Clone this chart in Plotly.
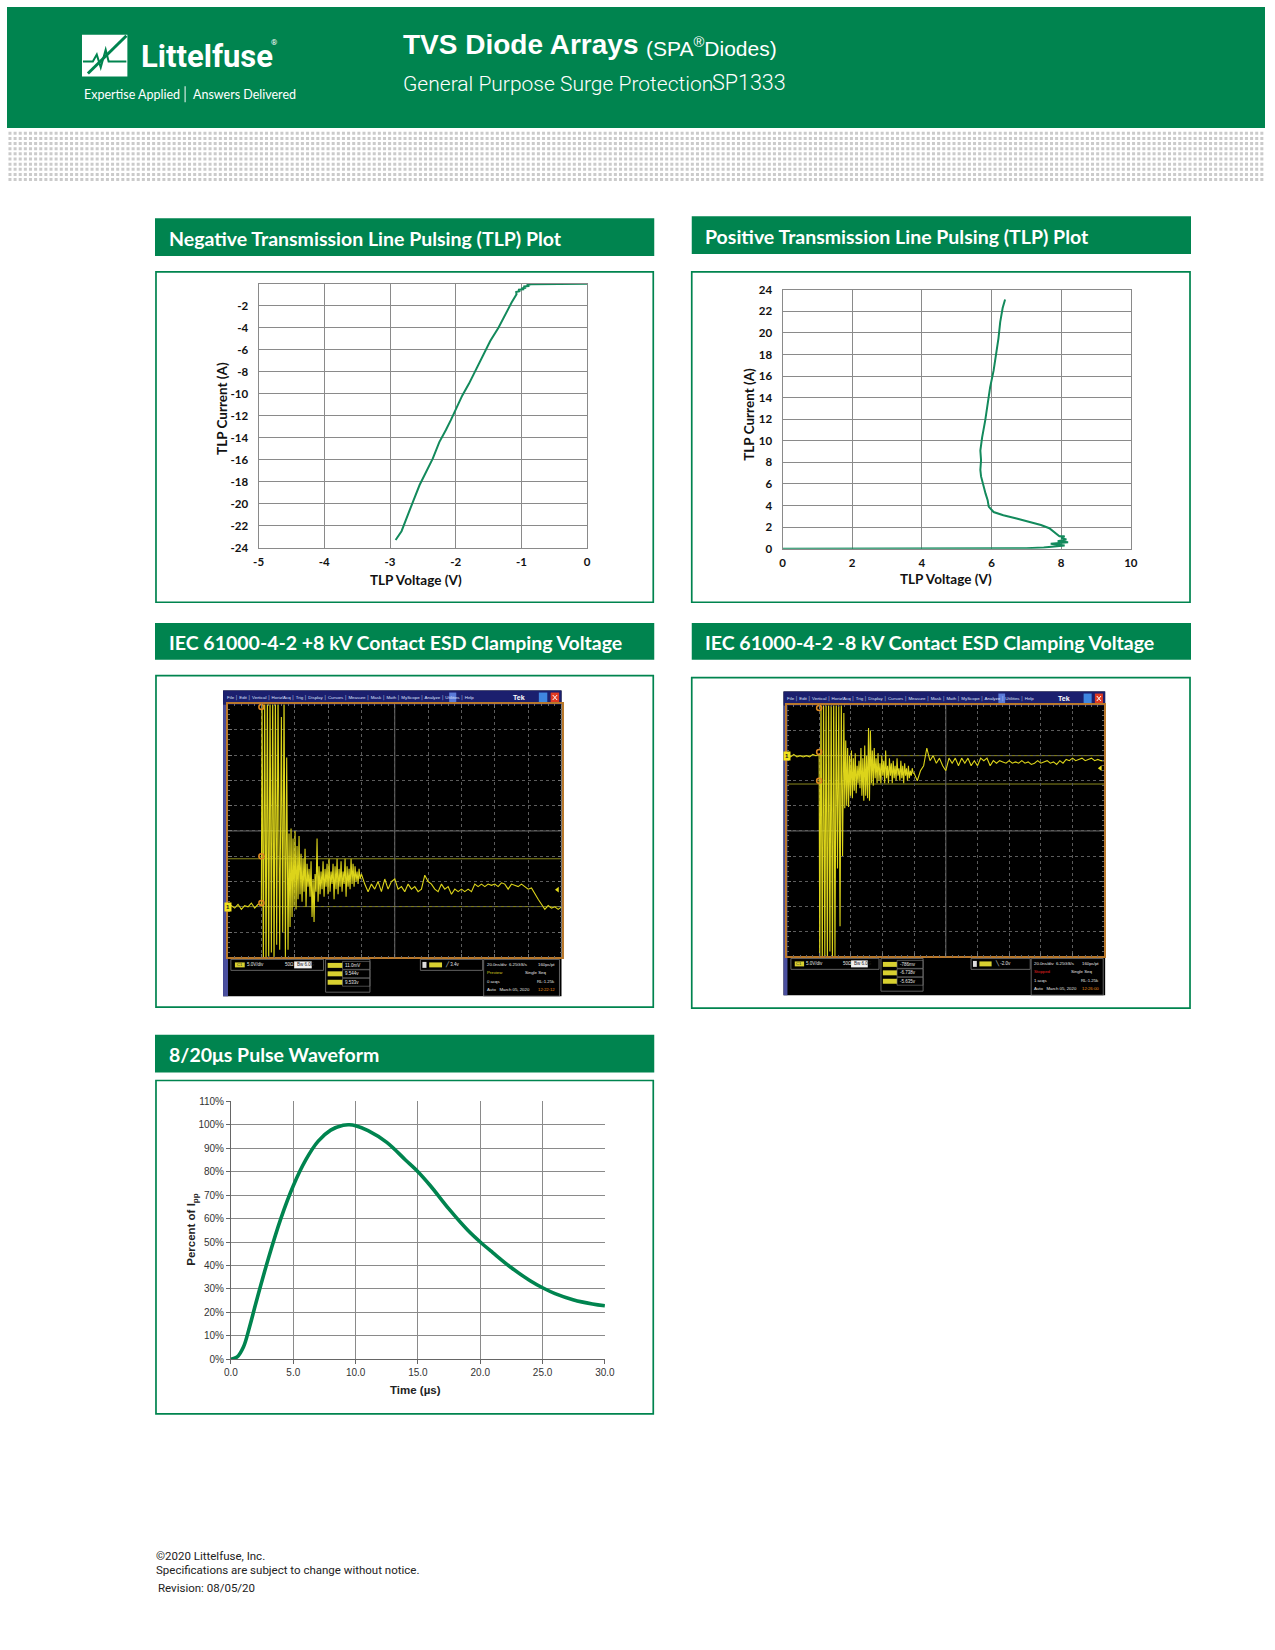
import plotly.graph_objects as go

W, H = 1275, 1650          # page size; the plot div is pinned to the page origin
GREEN = "#00844F"
CURVE = "#138a5c"
GRID = "#8a8a8a"


def px(x):
    return x / W


def py(y):
    return 1 - y / H


# ---------------- chart data ----------------
# Negative TLP (V, A)
neg_tlp_voltage = [0.0, -0.3, -0.6, -0.85, -0.92, -0.88, -0.97, -0.93, -1.0, -0.96, -1.05, -1.02, -1.08,
                   -1.075, -1.15, -1.25, -1.35, -1.475, -1.525, -1.625, -1.725, -1.8, -1.9, -2.0, -2.075,
                   -2.15, -2.25, -2.35, -2.475, -2.55, -2.65, -2.75, -2.825, -2.915]
neg_tlp_current = [0.0, 0.0, 0.0, -0.05, -0.1, -0.2, -0.25, -0.35, -0.4, -0.5, -0.55, -0.65, -0.75,
                   -0.96, -1.7, -2.8, -4.0, -5.2, -5.8, -7.0, -8.2, -9.1, -10.15, -11.5, -12.4,
                   -13.3, -14.4, -15.9, -17.4, -18.3, -19.8, -21.3, -22.5, -23.3]
neg_x_ticks = [-5, -4, -3, -2, -1, 0]
neg_x_labels = ["-5", "-4", "-3", "-2", "-1", "0"]
neg_y_ticks = [-2, -4, -6, -8, -10, -12, -14, -16, -18, -20, -22, -24]
neg_y_labels = ["-2", "-4", "-6", "-8", "-10", "-12", "-14", "-16", "-18", "-20", "-22", "-24"]

# Positive TLP (V, A)
pos_tlp_voltage = [0.0, 2.0, 4.0, 6.0, 7.0, 7.5, 7.8, 8.1, 7.7, 8.2, 7.9, 8.15, 8.0, 8.1, 7.95,
                   7.66, 7.42, 7.09, 6.72, 6.34, 6.06, 5.92, 5.89, 5.83, 5.78, 5.7, 5.68, 5.7, 5.68,
                   5.73, 5.82, 5.89, 5.96, 6.06, 6.15, 6.2, 6.25, 6.32, 6.39]
pos_tlp_current = [0.0, 0.0, 0.0, 0.0, 0.05, 0.1, 0.2, 0.3, 0.45, 0.6, 0.7, 0.85, 1.0, 1.15, 1.15,
                   1.9, 2.2, 2.5, 2.8, 3.1, 3.4, 3.9, 4.5, 5.1, 5.7, 6.7, 7.3, 8.2, 9.1,
                   10.3, 11.9, 13.4, 14.95, 16.5, 18.3, 19.5, 21.0, 22.3, 23.1]
pos_x_ticks = [0, 2, 4, 6, 8, 10]
pos_x_labels = ["0", "2", "4", "6", "8", "10"]
pos_y_ticks = [0, 2, 4, 6, 8, 10, 12, 14, 16, 18, 20, 22, 24]
pos_y_labels = ["0", "2", "4", "6", "8", "10", "12", "14", "16", "18", "20", "22", "24"]

# 8/20us pulse waveform
pulse_time_us = [0, 0.5, 1.0, 1.5, 2.0, 3.0, 4.0, 5.0, 6.0, 7.0, 8.0, 9.0, 9.5, 10.0, 11.0, 12.5, 14.0,
                 15.0, 16.0, 17.5, 19.0, 20.0, 21.0, 22.5, 24.0, 25.0, 26.0, 27.5, 29.0, 30.0]
pulse_percent = [0, 1.0, 5.2, 14.0, 24.0, 43.0, 60.0, 74.0, 85.0, 93.0, 97.7, 99.8, 100.0, 99.6, 97.5,
                 92.5, 85.0, 80.0, 74.0, 64.0, 55.0, 50.0, 45.5, 39.0, 33.5, 30.5, 28.0, 25.3, 23.6, 22.8]
pulse_x_ticks = [0, 5, 10, 15, 20, 25, 30]
pulse_x_labels = ["0.0", "5.0", "10.0", "15.0", "20.0", "25.0", "30.0"]
pulse_y_ticks = [0, 10, 20, 30, 40, 50, 60, 70, 80, 90, 100, 110]
pulse_y_labels = ["0%", "10%", "20%", "30%", "40%", "50%", "60%", "70%", "80%", "90%", "100%", "110%"]

# Oscilloscope traces, in graticule divisions (x: 0..10 left->right, y: 0..10 bottom->top)
scope_pos_x = [0.0, 0.1, 0.2, 0.3, 0.4, 0.5, 0.6, 0.7, 0.8, 0.9, 1.0,
               1.02, 1.06, 1.1, 1.14, 1.18, 1.22, 1.26, 1.3, 1.34, 1.38, 1.42, 1.46, 1.5, 1.55, 1.6,
               1.64, 1.68, 1.72, 1.76,
               1.80, 1.83, 1.86, 1.89, 1.92, 1.95, 1.98, 2.01, 2.04, 2.07, 2.10, 2.13, 2.16, 2.19, 2.22,
               2.25, 2.28, 2.31, 2.34, 2.37, 2.40, 2.43, 2.46, 2.49, 2.52, 2.55, 2.58, 2.61, 2.64, 2.67,
               2.70, 2.73, 2.76, 2.79, 2.82, 2.85, 2.88, 2.91, 2.94, 2.97, 3.00, 3.03, 3.06, 3.09, 3.12,
               3.15, 3.18, 3.21, 3.24, 3.27, 3.30, 3.33, 3.36, 3.39, 3.42, 3.45, 3.48, 3.51, 3.54, 3.57,
               3.60, 3.63, 3.66, 3.69, 3.72, 3.75, 3.78, 3.81, 3.84, 3.87, 3.90, 3.93, 3.96, 3.99,
               4.0, 4.1, 4.2, 4.3, 4.4, 4.5, 4.6, 4.7, 4.8, 4.9, 5.0, 5.1, 5.2, 5.3, 5.4, 5.5, 5.6,
               5.7, 5.8, 5.9, 6.0, 6.1, 6.2, 6.3, 6.4, 6.5, 6.6, 6.7, 6.8, 6.9, 7.0, 7.1, 7.2, 7.3,
               7.4, 7.5, 7.6, 7.7, 7.8, 7.9, 8.0, 8.1, 8.2, 8.3, 8.4, 8.5, 8.6, 8.7, 8.8, 8.9, 9.0,
               9.1, 9.2, 9.3, 9.4, 9.5, 9.6, 9.7, 9.8, 9.9, 10.0]
scope_pos_y = [2.0, 2.05, 1.95, 2.1, 1.9, 2.05, 2.0, 2.15, 1.95, 2.1, 2.1,
               10.5, -0.5, 10.5, -0.5, 10.5, -0.5, 10.5, 0.2, 10.5, -0.5, 10.5, 0.5, 10.5, 0.3, 9.5,
               1.0, 10.5, 0.0, 7.9,
               0.3, 4.9, 1.2, 5.1, 1.6, 4.7, 2.0, 5.0, 1.9, 4.4, 2.3, 4.8, 2.5, 4.1, 2.2,
               3.9, 2.6, 4.3, 2.0, 3.7, 2.8, 3.5, 2.4, 3.8, 1.6, 3.1, 1.4, 3.3, 2.6, 4.7,
               2.2, 3.6, 2.5, 3.4, 2.7, 3.8, 2.4, 3.5, 2.8, 3.7, 2.5, 3.9, 2.6, 3.4, 2.9,
               3.7, 2.3, 3.6, 2.7, 3.9, 2.5, 3.5, 2.8, 3.8, 2.6, 3.4, 2.9, 3.9, 2.4, 3.6,
               2.8, 3.5, 2.7, 3.9, 2.9, 3.7, 2.8, 3.6, 3.0, 3.4, 2.9, 3.5, 3.1, 3.3,
               3.3, 2.9, 2.6, 2.9, 2.7, 3.0, 2.6, 3.1, 2.7, 3.0, 3.1, 2.7, 2.8, 2.6, 2.9, 2.7, 2.8,
               2.6, 2.7, 3.25, 3.0, 2.9, 2.7, 2.6, 2.9, 2.7, 2.8, 2.5, 2.7, 2.6, 2.7, 2.6, 2.7, 2.6,
               2.9, 2.8, 2.9, 2.8, 2.9, 2.85, 2.9, 2.8, 2.95, 2.9, 2.7, 2.9, 2.85, 2.8, 2.9, 2.8, 2.7,
               2.75, 2.5, 2.3, 2.1, 1.9, 2.05, 1.95, 2.0, 1.9, 2.0]
scope_neg_x = [0.0, 0.1, 0.2, 0.3, 0.4, 0.5, 0.6, 0.7, 0.8, 0.9, 1.0,
               1.02, 1.06, 1.1, 1.14, 1.18, 1.22, 1.26, 1.3, 1.34, 1.38, 1.42, 1.46, 1.5, 1.54, 1.58,
               1.62, 1.66, 1.7, 1.74, 1.78,
               1.81, 1.84, 1.87, 1.90, 1.93, 1.96, 1.99, 2.02, 2.05, 2.08, 2.11, 2.14, 2.17, 2.20, 2.23,
               2.26, 2.29, 2.32, 2.35, 2.38, 2.41, 2.44, 2.47, 2.50, 2.53, 2.56, 2.59, 2.62, 2.65, 2.68,
               2.71, 2.74, 2.77, 2.80, 2.83, 2.86, 2.89, 2.92, 2.95, 2.98, 3.01, 3.04, 3.07, 3.10, 3.13,
               3.16, 3.19, 3.22, 3.25, 3.28, 3.31, 3.34, 3.37, 3.40, 3.43, 3.46, 3.49, 3.52, 3.55, 3.58,
               3.61, 3.64, 3.67, 3.70, 3.73, 3.76, 3.79, 3.82, 3.85, 3.88, 3.91, 3.94, 3.97,
               4.0, 4.1, 4.2, 4.3, 4.4, 4.5, 4.6, 4.7, 4.8, 4.9, 5.0, 5.1, 5.2, 5.3, 5.4, 5.5, 5.6,
               5.7, 5.8, 5.9, 6.0, 6.1, 6.2, 6.3, 6.4, 6.5, 6.6, 6.7, 6.8, 6.9, 7.0, 7.1, 7.2, 7.3,
               7.4, 7.5, 7.6, 7.7, 7.8, 7.9, 8.0, 8.1, 8.2, 8.3, 8.4, 8.5, 8.6, 8.7, 8.8, 8.9, 9.0,
               9.1, 9.2, 9.3, 9.4, 9.5, 9.6, 9.7, 9.8, 9.9, 10.0]
scope_neg_y = [8.0, 7.95, 8.05, 7.95, 8.0, 7.95, 8.0, 7.95, 8.05, 8.0, 8.05,
               -0.5, 10.5, -0.5, 10.5, 0.0, 10.5, -0.5, 10.5, 0.2, 10.5, -0.5, 10.5, 0.0, 10.3, 3.5,
               10.0, 1.2, 10.2, 4.0, 9.7,
               5.9, 8.6, 6.0, 8.3, 5.95, 8.0, 6.4, 8.2, 6.3, 7.9, 6.6, 8.1, 6.5, 7.6, 6.9,
               7.8, 6.7, 8.3, 6.4, 7.9, 6.2, 8.4, 6.4, 8.0, 6.3, 9.1, 6.2, 9.0, 6.9, 8.2,
               6.8, 8.3, 7.1, 7.9, 6.9, 8.1, 7.0, 7.7, 6.9, 8.0, 7.2, 7.8, 6.9, 8.2, 7.1,
               7.6, 6.9, 7.9, 7.2, 7.7, 6.9, 7.8, 7.1, 7.6, 7.0, 7.9, 7.2, 7.5, 7.0, 7.8,
               7.1, 7.6, 6.9, 7.7, 7.2, 7.5, 7.0, 7.6, 7.1, 7.4, 7.2, 7.5, 7.3,
               7.3, 7.0, 7.4, 7.6, 8.3, 7.8, 8.0, 7.7, 7.9, 7.6, 7.4, 7.9, 7.7, 7.9, 7.6, 7.9, 7.7,
               7.9, 7.6, 7.8, 7.6, 7.9, 7.8, 7.9, 7.6, 7.8, 7.7, 7.8, 7.75, 7.7, 7.8, 7.7, 7.75, 7.7,
               7.8, 7.7, 7.75, 7.65, 7.7, 7.8, 7.7, 7.75, 7.8, 7.7, 7.75, 7.65, 7.8, 7.7, 7.85, 7.8, 7.9,
               7.8, 7.85, 7.9, 7.8, 7.85, 7.9, 7.8, 7.85, 7.8, 7.8]
scope_pos_cursor_levels = [3.9, 2.01]
scope_neg_cursor_levels = [8.0, 6.87]
scope_pos_cursor_marks = [9.9, 4.0, 2.15]
scope_neg_cursor_marks = [9.9, 8.15, 7.0]
scope_pos_ref_level = 2.0
scope_neg_ref_level = 8.0
scope_pos_arrow_level = 2.68
scope_neg_arrow_level = 7.5
scope_menu_items = "File │ Edit │ Vertical │ Horiz/Acq │ Trig │ Display │ Cursors │ Measure │ Mask │ Math │ MyScope │ Analyze │ Utilities │ Help"
scope_pos_readouts = dict(vdiv="5.0V/div", meas=["11.0mV", "9.544v", "9.533v"], trig="╱ 3.4v",
                          state="Preview", state_color="#d8d020", acqs="0 acqs", clock="12:22:12")
scope_neg_readouts = dict(vdiv="5.0V/div", meas=["-786mv", "-6.738v", "-5.635v"], trig="╲ -2.0v",
                          state="Stopped", state_color="#e02020", acqs="1 acqs", clock="12:26:00")

shapes = []
anns = []


def rect(x0, y0, x1, y1, fill=None, line=None, lw=0, layer="below"):
    d = dict(type="rect", xref="paper", yref="paper", x0=px(x0), x1=px(x1), y0=py(y1), y1=py(y0),
             layer=layer, line=dict(width=lw, color=line if line else "rgba(0,0,0,0)"))
    if fill:
        d["fillcolor"] = fill
    shapes.append(d)


def path(points, color, width, layer="below"):
    p = "M " + " L ".join(f"{px(a):.5f},{py(b):.5f}" for a, b in points)
    shapes.append(dict(type="path", xref="paper", yref="paper", path=p, layer=layer,
                       line=dict(color=color, width=width)))


def text(x, y, s, size, color="white", family="Liberation Sans", weight="normal",
         xanchor="left", yanchor="middle", angle=0, bgcolor=None):
    d = dict(x=px(x), y=py(y), xref="paper", yref="paper", text=s, showarrow=False,
             xanchor=xanchor, yanchor=yanchor, textangle=angle, borderpad=0,
             font=dict(size=size, color=color, family=family, weight=weight))
    if bgcolor:
        d["bgcolor"] = bgcolor
    anns.append(d)


fig = go.Figure()

# ---------------- header ----------------
rect(0, 0, W, 122, fill=GREEN)
rect(76, 28, 122, 70, fill="white")
path([(121, 29), (82, 67)], GREEN, 3)
path([(77, 55), (87, 55), (91, 48), (95, 61), (100, 43), (103, 55), (121, 55)], GREEN, 2)
text(135, 50, "Littelfuse", 31, family="Roboto", weight="bold")
text(267, 36, "®", 8, family="Roboto")
text(77, 88, "Expertise Applied", 12.5, family="Lato")
rect(180, 80, 181, 96, fill="white")
text(188, 88, "Answers Delivered", 12.5, family="Lato")
text(400, 38, "TVS Diode Arrays", 28, weight="bold")
text(647, 40, "(SPA<sup>®</sup>Diodes)", 21)
text(400, 78, "General Purpose Surge Protection", 21, family="Roboto", weight=300)
text(714, 76, "SP1333", 21.5, family="Roboto", weight=300)

# decorative dotted band under header
dot_x, dot_y = [], []
for r in range(10):
    for c in range(246):
        dot_x.append(3 + c * 5.2)
        dot_y.append(127.3 + r * 5.18)
fig.add_trace(go.Scatter(x=dot_x, y=dot_y, mode="markers", xaxis="x6", yaxis="y6", hoverinfo="skip",
                         marker=dict(symbol="square", size=3, color="#cbcbcb", line=dict(width=0))))

# ---------------- section headers and panels ----------------
TITLE_FONT = dict(size=19.5, family="Lato", weight="bold")
sections = [
    (150, 213, 656, 251, 163, "Negative Transmission Line Pulsing (TLP) Plot"),
    (694, 211, 1200, 249, 706, "Positive Transmission Line Pulsing (TLP) Plot"),
    (150, 621, 656, 658, 163, "IEC 61000-4-2 +8 kV Contact ESD Clamping Voltage"),
    (694, 621, 1200, 658, 706, "IEC 61000-4-2 -8 kV Contact ESD Clamping Voltage"),
    (150, 1036, 656, 1074, 163, "8/20μs Pulse Waveform"),
]
for x0, y0, x1, y1, tx, t in sections:
    rect(x0, y0, x1, y1, fill=GREEN)
    text(tx, (y0 + y1) / 2 + 1, t, **TITLE_FONT)

for x0, y0, x1, y1 in [(151, 267, 655, 600), (694, 267, 1199, 600), (151, 674, 655, 1008),
                       (694, 676, 1199, 1009), (151, 1082, 655, 1418)]:
    rect(x0, y0, x1, y1, line=GREEN, lw=1.7)

# ---------------- TLP plots ----------------
fig.add_trace(go.Scatter(x=neg_tlp_voltage, y=neg_tlp_current, mode="lines", xaxis="x", yaxis="y",
                         line=dict(color=CURVE, width=2), hoverinfo="skip"))
fig.add_trace(go.Scatter(x=pos_tlp_voltage, y=pos_tlp_current, mode="lines", xaxis="x2", yaxis="y2",
                         line=dict(color=CURVE, width=2), hoverinfo="skip"))


def tlp_axis(domain, rng, vals, labels, anchor, ticklen):
    return dict(domain=domain, range=rng, tickmode="array", tickvals=vals, ticktext=labels,
                showgrid=True, gridcolor=GRID, gridwidth=1.3, zeroline=False, showline=True,
                linecolor=GRID, linewidth=1.3, mirror=True, ticks="outside", ticklen=ticklen,
                tickcolor="rgba(0,0,0,0)", anchor=anchor, fixedrange=True,
                tickfont=dict(family="Lato", size=11.5, color="#111", weight="bold"))


TLP_TITLE = dict(size=13.5, color="#111", family="Lato", weight="bold")
text(218, 405, "TLP Current (A)", angle=-90, xanchor="center", **TLP_TITLE)
text(415, 578, "TLP Voltage (V)", xanchor="center", **TLP_TITLE)
text(752, 410, "TLP Current (A)", angle=-90, xanchor="center", **TLP_TITLE)
text(952, 577, "TLP Voltage (V)", xanchor="center", **TLP_TITLE)

# ---------------- pulse waveform ----------------
fig.add_trace(go.Scatter(x=pulse_time_us, y=pulse_percent, mode="lines", xaxis="x5", yaxis="y5",
                         line=dict(color=GREEN, width=3.6, shape="spline", smoothing=1.0),
                         hoverinfo="skip"))
PULSE_TICK = dict(family="Liberation Sans", size=10, color="#333")
text(414, 1394, "Time (µs)", 11.5, color="#222", weight="bold", xanchor="center")
text(188, 1232, "Percent of I<sub>pp</sub>", 11.5, color="#222", weight="bold", xanchor="center", angle=-90)


# ---------------- oscilloscope captures ----------------
def draw_scope(ix0, ix1, iy0, iy1, menu_b, gx0, gy1, xs, ys, xa, ya, levels, marks, ref, arrow, ro):
    wdt = ix1 - ix0

    def fx(f):
        return ix0 + f * wdt

    rect(ix0, iy0, ix1, iy1, fill="#000000")
    rect(ix0, iy0, ix1, menu_b, fill="#1b1f6e")
    rect(ix0, menu_b, gx0, iy1, fill="#4a4f9e")
    text(ix0 + 3, (iy0 + menu_b) / 2, scope_menu_items, 4.4, color="#dfe3ff")
    rect(fx(0.668), iy0 + 2, fx(0.689), menu_b - 2, fill="#5a7ad8")
    text(fx(0.895), (iy0 + menu_b) / 2, "Tek", 7, color="white", weight="bold", xanchor="right")
    rect(fx(0.933), iy0 + 2, fx(0.958), menu_b - 2, fill="#3f86e0")
    rect(fx(0.968), iy0 + 2, fx(0.993), menu_b - 2, fill="#e03a22")
    path([(fx(0.974), iy0 + 4.5), (fx(0.987), menu_b - 4.5)], "white", 1)
    path([(fx(0.974), menu_b - 4.5), (fx(0.987), iy0 + 4.5)], "white", 1)

    # readout boxes
    top = gy1 + 2
    box = "#7a7a7a"
    rect(fx(0.023), top, fx(0.297), top + 11, line=box, lw=0.8)
    rect(fx(0.035), top + 3, fx(0.064), top + 8, fill="#d8d030")
    text(fx(0.049), top + 5.5, "C1", 4, color="#222", xanchor="center")
    text(fx(0.067), top + 5.5, ro["vdiv"], 4.5, color="#e6e6e6")
    text(fx(0.181), top + 5.5, "50Ω", 4.5, color="#e6e6e6")
    rect(fx(0.21), top + 2, fx(0.262), top + 9, fill="#f2f2f2")
    text(fx(0.215), top + 5.5, "Bw 6.0G", 4.5, color="#222")
    rect(fx(0.303), top, fx(0.434), top + 33, line=box, lw=0.8)
    for k, m in enumerate(ro["meas"]):
        yy = top + 6 + k * 8.5
        rect(fx(0.309), yy - 2.5, fx(0.353), yy + 2.5, fill="#d8d030")
        rect(fx(0.353), yy - 4, fx(0.434), yy + 4, line=box, lw=0.6)
        text(fx(0.358), yy, m, 4.5, color="#e6e6e6")
    rect(fx(0.583), top, fx(0.767), top + 11, line=box, lw=0.8)
    rect(fx(0.589), top + 2.5, fx(0.601), top + 8.5, fill="#dddddd")
    rect(fx(0.609), top + 3, fx(0.647), top + 8, fill="#d8d030")
    text(fx(0.653), top + 5.5, ro["trig"], 4.5, color="#e6e6e6")
    rect(fx(0.770), top, fx(0.994), iy1, line=box, lw=0.8)
    text(fx(0.776), top + 5, "20.0ns/div  6.25GS/s", 4.3, color="#e6e6e6")
    text(fx(0.985), top + 5, "160ps/pt", 4.3, color="#e6e6e6", xanchor="right")
    text(fx(0.776), top + 13.5, ro["state"], 4.3, color=ro["state_color"])
    text(fx(0.890), top + 13.5, "Single Seq", 4.3, color="#e6e6e6")
    text(fx(0.776), top + 22, ro["acqs"], 4.3, color="#e6e6e6")
    text(fx(0.985), top + 22, "RL:1.25k", 4.3, color="#e6e6e6", xanchor="right")
    text(fx(0.776), top + 30.5, "Auto   March 05, 2020", 4.3, color="#e6e6e6")
    text(fx(0.985), top + 30.5, ro["clock"], 4.3, color="#e8901c", xanchor="right")

    # graticule centre lines and cursors
    for lv in levels:
        shapes.append(dict(type="line", xref=xa, yref=ya, x0=0, x1=10, y0=lv, y1=lv, layer="below",
                           line=dict(color="#8c8a1c", width=1)))
    shapes.append(dict(type="line", xref=xa, yref=ya, x0=5, x1=5, y0=0, y1=10, layer="below",
                       line=dict(color="#6a6a6a", width=1)))
    shapes.append(dict(type="line", xref=xa, yref=ya, x0=0, x1=10, y0=5, y1=5, layer="below",
                       line=dict(color="#6a6a6a", width=1)))
    fig.add_trace(go.Scatter(x=xs, y=ys, mode="lines", xaxis=xa, yaxis=ya, hoverinfo="skip",
                             line=dict(color="#dcd41a", width=1.1)))
    fig.add_trace(go.Scatter(x=[1.0] * len(marks), y=marks, mode="markers", xaxis=xa, yaxis=ya,
                             hoverinfo="skip", cliponaxis=False,
                             marker=dict(symbol="circle-open", size=5, color="#e08a20", line=dict(width=1.5))))
    fig.add_trace(go.Scatter(x=[9.88], y=[arrow], mode="markers", xaxis=xa, yaxis=ya,
                             hoverinfo="skip", cliponaxis=False,
                             marker=dict(symbol="triangle-left", size=5, color="#e4dc1a", line=dict(width=0))))
    anns.append(dict(x=0, y=ref, xref=xa, yref=ya, text="1", showarrow=False, bgcolor="#f2e21a",
                     borderpad=1, font=dict(size=6, color="#222", family="Liberation Sans", weight="bold")))


draw_scope(219, 562, 689, 997, 703, 224, 958, scope_pos_x, scope_pos_y, "x3", "y3",
           scope_pos_cursor_levels, scope_pos_cursor_marks, scope_pos_ref_level, scope_pos_arrow_level,
           scope_pos_readouts)
draw_scope(787, 1113, 690, 996, 704, 791, 957, scope_neg_x, scope_neg_y, "x4", "y4",
           scope_neg_cursor_levels, scope_neg_cursor_marks, scope_neg_ref_level, scope_neg_arrow_level,
           scope_neg_readouts)


def scope_axis(domain, anchor):
    return dict(domain=domain, range=[0, 10], anchor=anchor, showticklabels=False, fixedrange=True,
                showgrid=True, gridcolor="#5c5c5c", griddash="dot", gridwidth=1, dtick=1, tick0=0,
                zeroline=False, showline=True, mirror="allticks", linecolor="#b8782c", linewidth=1.5,
                ticks="inside", ticklen=4, tickcolor="#777",
                minor=dict(dtick=0.2, ticks="inside", ticklen=2, tickcolor="#666", showgrid=False))


# ---------------- footer ----------------
FOOT = dict(size=11.5, color="#222", family="Roboto")
text(150, 1561, "©2020 Littelfuse, Inc.", **FOOT)
text(150, 1575, "Specifications are subject to change without notice.", **FOOT)
text(152, 1594, "Revision: 08/05/20", **FOOT)

fig.update_layout(
    autosize=True, margin=dict(l=0, r=0, t=0, b=0, pad=0),
    paper_bgcolor="white", plot_bgcolor="rgba(0,0,0,0)", showlegend=False,
    xaxis=tlp_axis([px(255), px(588)], [-5, 0], neg_x_ticks, neg_x_labels, "y", 3),
    yaxis=tlp_axis([py(545), py(279)], [-24, 0], neg_y_ticks, neg_y_labels, "x", 7),
    xaxis2=tlp_axis([px(786), px(1139)], [0, 10], pos_x_ticks, pos_x_labels, "y2", 3),
    yaxis2=tlp_axis([py(546), py(285)], [0, 24], pos_y_ticks, pos_y_labels, "x2", 7),
    xaxis3=scope_axis([px(224), px(562)], "y3"),
    yaxis3=scope_axis([py(958), py(703)], "x3"),
    xaxis4=scope_axis([px(791), px(1112)], "y4"),
    yaxis4=scope_axis([py(957), py(704)], "x4"),
    xaxis5=dict(domain=[px(227), px(606)], range=[0, 30], anchor="y5", tickmode="array",
                tickvals=pulse_x_ticks, ticktext=pulse_x_labels, showgrid=True, gridcolor=GRID,
                gridwidth=1, zeroline=False, showline=True, linecolor="#666", linewidth=1,
                ticks="outside", ticklen=4, tickcolor="#666", tickfont=PULSE_TICK, fixedrange=True),
    yaxis5=dict(domain=[py(1363), py(1103)], range=[0, 110], anchor="x5", tickmode="array",
                tickvals=pulse_y_ticks, ticktext=pulse_y_labels, showgrid=True, gridcolor=GRID,
                gridwidth=1, zeroline=False, showline=True, linecolor="#666", linewidth=1,
                ticks="outside", ticklen=4, tickcolor="#666", tickfont=PULSE_TICK, fixedrange=True),
    xaxis6=dict(domain=[0, 1], range=[0, W], anchor="y6", visible=False, fixedrange=True),
    yaxis6=dict(domain=[py(180), py(120)], range=[180, 120], anchor="x6", visible=False, fixedrange=True),
    shapes=shapes, annotations=anns,
)

# the plot div is sized to the full window and pinned to the page origin
fig.write_html("out.html", config={"displayModeBar": False},
               default_width=f"{W}px",
               default_height=f"{H}px; position:absolute; left:0px; top:0px")
